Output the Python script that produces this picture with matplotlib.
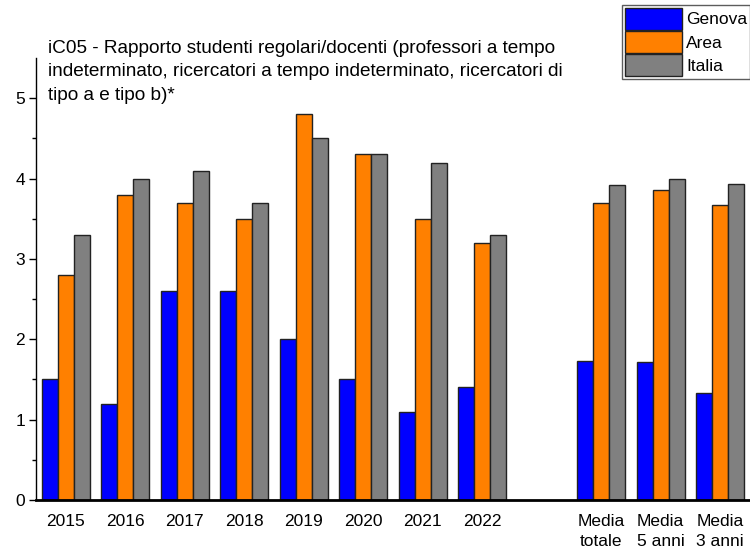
import numpy as np
import matplotlib.pyplot as plt

plt.rcParams['font.family'] = ['Liberation Sans', 'DejaVu Sans']

categories = ['2015', '2016', '2017', '2018', '2019', '2020', '2021', '2022',
              'Media\ntotale', 'Media\n5 anni', 'Media\n3 anni']
genova = [1.5, 1.2, 2.6, 2.6, 2.0, 1.5, 1.1, 1.4, 1.73, 1.72, 1.33]
area = [2.8, 3.8, 3.7, 3.5, 4.8, 4.3, 3.5, 3.2, 3.70, 3.86, 3.67]
italia = [3.3, 4.0, 4.1, 3.7, 4.5, 4.3, 4.2, 3.3, 3.92, 4.00, 3.93]

# years at 0..7, then a gap before the averages
pos = np.array([0, 1, 2, 3, 4, 5, 6, 7, 9, 10, 11])
w = 0.27

fig = plt.figure(figsize=(7.5, 5.53), dpi=100)
ax = fig.add_axes([0.048, 0.096, 0.952, 0.799])

ax.bar(pos - w, genova, w, color='#0000ff', edgecolor='#222222', linewidth=1, label='Genova')
ax.bar(pos, area, w, color='#ff8000', edgecolor='#222222', linewidth=1, label='Area')
ax.bar(pos + w, italia, w, color='#808080', edgecolor='#222222', linewidth=1, label='Italia')

ax.set_xlim(-0.5, 11.5)
ax.set_ylim(0, 5.5)
ax.set_yticks([0, 1, 2, 3, 4, 5])
ax.set_yticks(np.arange(0.5, 5.5, 1), minor=True)
ax.set_xticks(pos)
ax.set_xticklabels(categories, fontsize=12.5, linespacing=1.45)
ax.tick_params(axis='y', labelsize=12.5, length=5, width=1, direction='out', pad=3)
ax.tick_params(axis='y', which='minor', length=3, width=1)
ax.tick_params(axis='x', length=0, pad=10)

ax.spines['top'].set_visible(False)
ax.spines['right'].set_visible(False)
ax.spines['left'].set_linewidth(1)
ax.spines['bottom'].set_linewidth(2)

fig.text(0.064, 0.870,
         'iC05 - Rapporto studenti regolari/docenti (professori a tempo\n'
         'indeterminato, ricercatori a tempo indeterminato, ricercatori di\n'
         'tipo a e tipo b)*',
         fontsize=13.7, va='center', ha='left', linespacing=1.48)

leg = fig.legend(loc='upper right', bbox_to_anchor=(1.0, 0.991), fontsize=12.5,
                 frameon=True, fancybox=False, edgecolor='#333333',
                 handlelength=3.3, handleheight=1.6, handletextpad=0.25,
                 labelspacing=0.05, borderpad=0.15, borderaxespad=0)
leg.get_frame().set_linewidth(1)

fig.savefig('out.png', dpi=100)
